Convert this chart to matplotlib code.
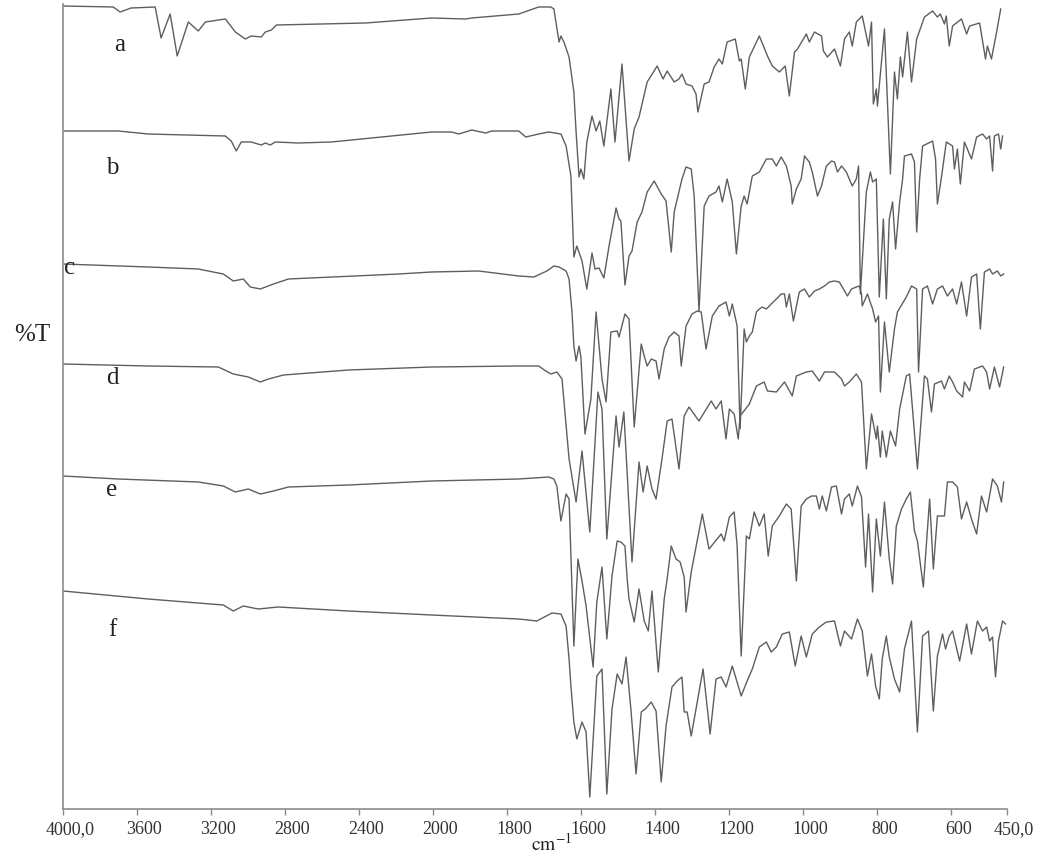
import numpy as np
import matplotlib
matplotlib.use("Agg")
import matplotlib.pyplot as plt
import matplotlib.transforms as mtransforms

# IR spectra a-f, wavenumber (cm-1) and offset %T values
wn_a = [4000, 3729, 3691, 3632, 3502, 3470, 3421, 3383, 3323, 3269, 3231, 3123, 3069, 3015, 2983, 2929,
        2907, 2874, 2847, 2366, 2009, 1912, 1896, 1769, 1715, 1682, 1674, 1660, 1655, 1647, 1633, 1620,
        1614, 1606, 1601, 1593, 1585, 1571, 1560, 1550, 1539, 1520, 1509, 1490, 1471, 1457, 1444, 1422,
        1395, 1379, 1368, 1349, 1336, 1328, 1317, 1301, 1290, 1285, 1268, 1255, 1241, 1228, 1219, 1206,
        1184, 1173, 1168, 1157, 1146, 1119, 1097, 1084, 1065, 1049, 1038, 1024, 1016, 992, 984, 970,
        951, 946, 935, 916, 900, 889, 876, 868, 857, 841, 824, 816, 811, 803, 800, 781, 765, 754, 746,
        738, 732, 719, 708, 694, 673, 651, 638, 630, 619, 614, 606, 597, 573, 559, 551, 524, 508, 503,
        492, 478, 467]
t_a = [803, 802, 797, 801, 802, 771, 795, 753, 787, 778, 787, 790, 777, 770, 773, 772,
       777, 779, 784, 786, 791, 790, 791, 795, 802, 802, 800, 767, 773, 767, 752, 717,
       677, 632, 640, 630, 667, 693, 678, 688, 663, 720, 667, 745, 648, 680, 692, 727,
       743, 730, 738, 727, 730, 735, 725, 723, 715, 697, 725, 727, 742, 750, 745, 767,
       770, 748, 750, 720, 752, 773, 753, 743, 737, 743, 713, 757, 760, 775, 767, 777,
       773, 758, 752, 760, 743, 770, 777, 763, 787, 793, 763, 787, 705, 720, 703, 780, 635, 737, 710,
       752, 732, 777, 727, 770, 792, 798, 792, 795, 785, 793, 763, 783, 790, 775, 783, 786, 750, 763,
       750, 777, 800]

wn_b = [4000, 3702, 3540, 3123, 3091, 3064, 3037, 2983, 2929, 2907, 2880, 2853, 2729, 2550, 2009, 1950,
        1931, 1896, 1858, 1842, 1769, 1750, 1715, 1688, 1655, 1641, 1628, 1620, 1612, 1598, 1585, 1571,
        1563, 1552, 1539, 1525, 1506, 1498, 1493, 1482, 1471, 1463, 1449, 1436, 1422, 1403, 1384, 1371,
        1357, 1349, 1328, 1317, 1303, 1295, 1282, 1268, 1255, 1236, 1228, 1219, 1206, 1192, 1181, 1168,
        1160, 1152, 1138, 1119, 1100, 1084, 1073, 1060, 1046, 1033, 1030, 1019, 1006, 997, 984, 976,
        962, 951, 938, 924, 916, 908, 897, 884, 876, 868, 857, 851, 846, 830, 819, 813, 803, 795, 784,
        776, 768, 759, 751, 740, 732, 727, 708, 700, 694, 686, 678, 651, 643, 638, 627, 614, 597, 592,
        584, 576, 565, 546, 532, 516, 505, 497, 489, 484, 473, 467, 462]
t_b = [678, 678, 675, 673, 668, 658, 667, 667, 664, 666, 664, 667, 666, 667, 677, 677,
       675, 679, 676, 678, 678, 672, 675, 677, 675, 663, 633, 552, 563, 548, 520, 556,
       540, 541, 531, 563, 601, 590, 588, 524, 553, 558, 587, 597, 617, 628, 615, 608,
       557, 597, 630, 642, 640, 613, 498, 603, 613, 617, 623, 607, 630, 607, 555, 603,
       613, 605, 633, 637, 650, 650, 643, 652, 643, 623, 605, 620, 630, 653, 647, 637,
       613, 623, 643, 648, 647, 637, 643, 637, 630, 623, 630, 643, 515, 617, 637, 627, 630, 512, 590,
       510, 590, 607, 560, 607, 630, 653, 655, 647, 577, 630, 663, 668, 650, 605, 632, 667, 663, 640,
       660, 625, 667, 650, 672, 675, 670, 673, 638, 673, 675, 660, 673]

wn_c = [4000, 3540, 3269, 3134, 3080, 3026, 2988, 2934, 2863, 2782, 2187, 2009, 1877, 1769, 1728, 1693,
        1674, 1660, 1641, 1633, 1625, 1620, 1614, 1606, 1601, 1590, 1574, 1560, 1544, 1533, 1520, 1503,
        1498, 1482, 1471, 1457, 1438, 1430, 1422, 1411, 1398, 1390, 1376, 1363, 1349, 1336, 1330, 1317,
        1301, 1287, 1276, 1263, 1246, 1228, 1209, 1200, 1192, 1179, 1171, 1160, 1154, 1146, 1138, 1127,
        1119, 1111, 1100, 1087, 1073, 1060, 1051, 1046, 1038, 1027, 1011, 997, 984, 970, 957, 943, 930,
        916, 903, 895, 881, 870, 857, 849, 843, 841, 827, 813, 805, 797, 792, 781, 768, 754, 746, 722,
        708, 694, 689, 678, 665, 651, 638, 624, 611, 597, 586, 573, 559, 546, 532, 522, 511, 497, 489,
        476, 467, 459]
t_c = [545, 542, 540, 535, 528, 530, 522, 520, 525, 530, 535, 537, 538, 533, 532, 538,
       543, 542, 538, 530, 497, 463, 448, 463, 452, 375, 410, 497, 430, 407, 477, 478,
       472, 495, 490, 382, 465, 453, 443, 450, 448, 430, 460, 472, 477, 473, 443, 483,
       495, 498, 497, 460, 493, 503, 507, 493, 505, 483, 380, 480, 467, 473, 477, 497,
       500, 502, 500, 505, 510, 515, 515, 502, 515, 488, 517, 520, 512, 518, 520, 523, 527,
       528, 527, 522, 513, 520, 522, 523, 515, 503, 515, 500, 487, 493, 417, 487, 437, 480, 497, 512,
       523, 520, 437, 520, 523, 505, 520, 523, 513, 520, 505, 527, 493, 532, 535, 480, 537, 540, 535,
       538, 533, 535]

wn_d = [4000, 3540, 3161, 3080, 2999, 2934, 2890, 2809, 2457, 2009, 1769, 1715, 1696, 1682, 1666, 1652,
        1633, 1614, 1598, 1577, 1555, 1544, 1531, 1506, 1498, 1485, 1463, 1444, 1433, 1422, 1409, 1398,
        1382, 1368, 1355, 1336, 1322, 1309, 1282, 1249, 1236, 1222, 1209, 1200, 1187, 1176, 1171, 1146,
        1127, 1106, 1097, 1073, 1051, 1030, 1019, 992, 976, 957, 943, 916, 897, 889, 876, 857, 843, 830,
        816, 803, 800, 792, 787, 776, 765, 751, 740, 722, 713, 692, 673, 665, 654, 646, 627, 619, 606,
        597, 586, 570, 565, 551, 538, 516, 505, 497, 484, 470, 459]
t_d = [445, 443, 442, 435, 432, 427, 430, 434, 439, 442, 443, 443, 438, 435, 437, 430,
       350, 307, 358, 277, 417, 400, 270, 393, 362, 397, 247, 347, 317, 343, 320, 310,
       350, 388, 390, 340, 393, 402, 388, 408, 400, 408, 370, 400, 395, 370, 393, 405,
       423, 427, 418, 417, 427, 413, 433, 437, 438, 428, 437, 437, 430, 423, 427, 435, 427, 340,
       395, 370, 383, 352, 378, 352, 378, 363, 400, 433, 435, 340, 433, 430, 397, 425, 428, 420, 433,
       427, 418, 412, 427, 418, 440, 443, 437, 420, 442, 422, 442]

wn_e = [4000, 3702, 3269, 3134, 3069, 2999, 2934, 2863, 2782, 2457, 2009, 1769, 1688, 1674, 1666, 1655,
        1641, 1633, 1620, 1609, 1598, 1587, 1568, 1558, 1544, 1531, 1517, 1503, 1493, 1482, 1476, 1471,
        1457, 1444, 1430, 1419, 1409, 1392, 1376, 1368, 1357, 1344, 1333, 1322, 1317, 1303, 1273, 1255,
        1233, 1222, 1214, 1200, 1187, 1179, 1168, 1154, 1146, 1133, 1119, 1106, 1095, 1084, 1065, 1046,
        1033, 1019, 1006, 992, 978, 965, 957, 949, 938, 924, 911, 897, 889, 876, 868, 854, 843, 832, 824,
        813, 803, 792, 781, 768, 759, 749, 735, 722, 711, 700, 692, 676, 659, 649, 638, 619, 611, 597,
        584, 573, 559, 546, 532, 519, 505, 489, 476, 465, 459]
t_e = [333, 330, 327, 323, 317, 320, 315, 318, 322, 324, 328, 330, 332, 330, 323, 288,
       315, 310, 163, 250, 228, 203, 142, 207, 242, 170, 233, 268, 267, 263, 230, 210,
       187, 220, 188, 178, 218, 137, 210, 230, 263, 250, 247, 232, 197, 237, 295, 260,
       270, 275, 268, 292, 297, 263, 153, 273, 270, 297, 283, 295, 253, 283, 293, 305,
       300, 228, 303, 310, 313, 313, 300, 313, 298, 322, 323, 295, 310, 315, 303, 323, 312, 242, 295,
       217, 290, 253, 307, 250, 225, 283, 300, 310, 317, 278, 268, 222, 310, 240, 293, 293, 327, 327,
       322, 290, 307, 290, 275, 313, 297, 330, 323, 307, 327]

wn_f = [4000, 3540, 3134, 3080, 3026, 2945, 2837, 2457, 2009, 1769, 1720, 1679, 1655, 1641, 1633, 1628,
        1620, 1612, 1598, 1587, 1577, 1558, 1544, 1531, 1517, 1503, 1490, 1479, 1466, 1452, 1438, 1427,
        1411, 1398, 1384, 1371, 1355, 1341, 1328, 1322, 1314, 1303, 1290, 1271, 1252, 1236, 1222, 1209,
        1192, 1168, 1152, 1138, 1119, 1100, 1087, 1073, 1057, 1038, 1022, 1006, 992, 976, 957, 938, 916,
        900, 889, 870, 854, 841, 827, 816, 805, 795, 787, 776, 768, 754, 740, 727, 708, 692, 678, 662,
        649, 638, 624, 616, 606, 597, 578, 559, 546, 530, 516, 505, 497, 489, 481, 473, 462, 454]
t_f = [218, 210, 204, 198, 203, 200, 202, 198, 194, 190, 188, 196, 195, 183, 150, 123,
       87, 70, 87, 77, 12, 133, 140, 15, 100, 135, 125, 152, 100, 35, 97, 100,
       107, 98, 27, 83, 122, 128, 132, 97, 97, 73, 100, 140, 75, 130, 132, 122,
       143, 113, 128, 140, 162, 167, 157, 162, 175, 177, 143, 173, 152, 175, 182, 187, 188,
       163, 178, 170, 190, 178, 133, 155, 123, 110, 150, 173, 152, 130, 117, 160, 188, 77, 173, 178,
       98, 153, 175, 160, 173, 178, 148, 185, 155, 188, 178, 182, 168, 172, 132, 168, 188, 185]

spectra = [("a", wn_a, t_a), ("b", wn_b, t_b), ("c", wn_c, t_c),
           ("d", wn_d, t_d), ("e", wn_e, t_e), ("f", wn_f, t_f)]
tick_vals = [4000, 3600, 3200, 2800, 2400, 2000, 1800, 1600, 1400, 1200, 1000, 800, 600, 450]
tick_labels = ["4000,0", "3600", "3200", "2800", "2400", "2000", "1800", "1600",
               "1400", "1200", "1000", "800", "600", "450,0"]


# spectrometer-style axis: half scale above 2000 cm-1
def fwd(w):
    w = np.asarray(w, dtype=float)
    return np.where(w >= 2000, 2000 + (w - 2000) / 2.0, w)


def inv(u):
    u = np.asarray(u, dtype=float)
    return np.where(u >= 2000, 2000 + (u - 2000) * 2.0, u)


plt.rcParams["mathtext.fontset"] = "stix"
serif = ["Liberation Serif", "DejaVu Serif"]
line_col = "#5e5e5e"
axis_col = "#8c8c8c"
text_col = "#333333"

fig = plt.figure(figsize=(10.4, 8.54), dpi=100)
ax = fig.add_axes([63 / 1040, 44 / 854, 944 / 1040, 805 / 854])

for name, wn, t in spectra:
    ax.plot(wn, t, color=line_col, lw=1.0)

ax.set_xscale("function", functions=(fwd, inv))
ax.set_xlim(4000, 450)
ax.set_ylim(0, 805)

ax.set_xticks(tick_vals)
ax.set_xticklabels(tick_labels, fontsize=13, family=serif, color=text_col)
ax.set_yticks([])
ax.tick_params(axis="x", direction="out", length=4, width=1, color=axis_col, pad=4)
offset = mtransforms.ScaledTranslation(7 / 100, 0, fig.dpi_scale_trans)
for lab in ax.get_xticklabels():
    lab.set_transform(lab.get_transform() + offset)

for side in ["top", "right"]:
    ax.spines[side].set_visible(False)
for side in ["left", "bottom"]:
    ax.spines[side].set_color(axis_col)
    ax.spines[side].set_linewidth(1.2)

# axis title squeezed in under the tick labels, between 1800 and 1600
fig.text(551 / 1040, 1 - 851 / 854, r"$\mathrm{cm^{-1}}$", fontsize=14,
         color="#222222", ha="center", va="baseline")

label_pos = {"a": (120, 45), "b": (112, 168), "c": (70, 268),
             "d": (112, 378), "e": (112, 490), "f": (112, 630)}
for name, (px, py) in label_pos.items():
    fig.text(px / 1040, 1 - py / 854, name, fontsize=18, family=serif, color="#222222",
             ha="center", va="center")
fig.text(32 / 1040, 1 - 335 / 854, "%T", fontsize=18, family=serif, color="#222222",
         ha="center", va="center")

fig.savefig("out.png", dpi=100)
